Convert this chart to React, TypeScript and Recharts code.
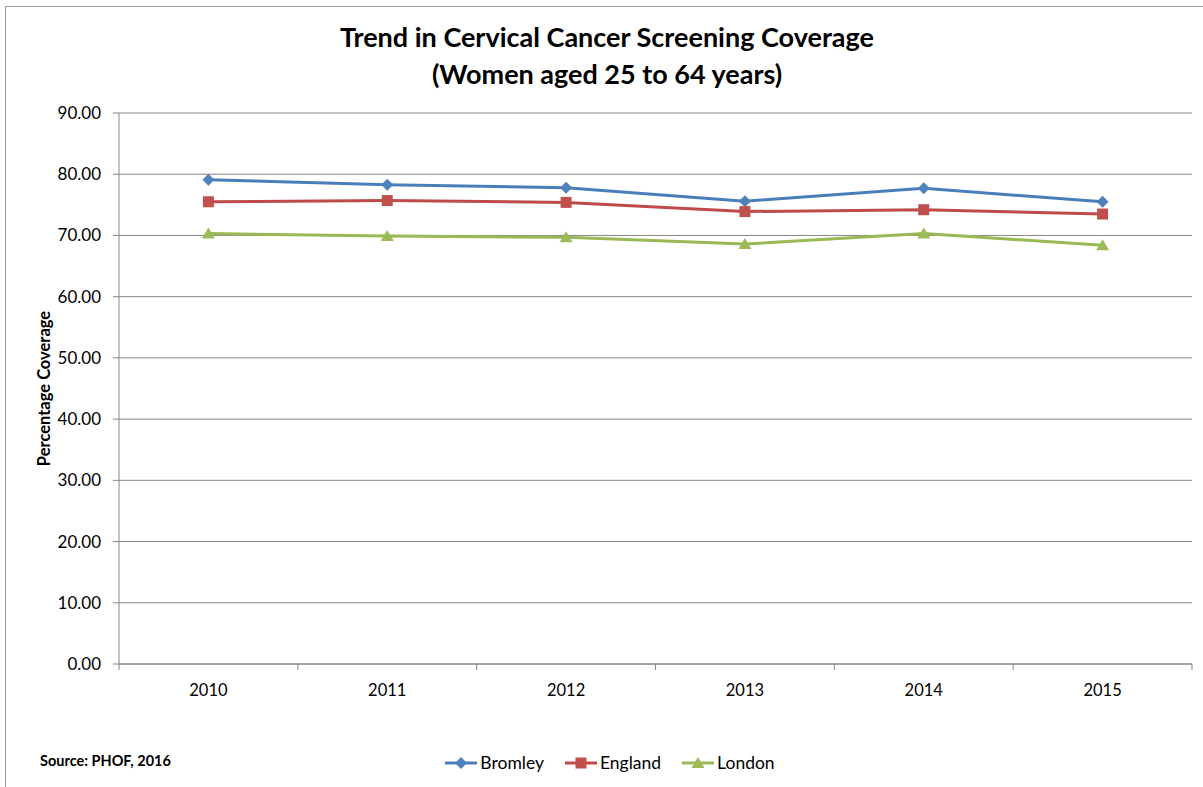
import React from 'react';
import { LineChart, Line, XAxis, YAxis, CartesianGrid, Legend } from 'recharts';

const categories = ['2010', '2011', '2012', '2013', '2014', '2015'];
const bromley = [79.1, 78.3, 77.8, 75.6, 77.7, 75.5];
const england = [75.5, 75.7, 75.4, 73.9, 74.2, 73.5];
const london = [70.3, 69.9, 69.7, 68.6, 70.3, 68.4];
const yTicks = [0, 10, 20, 30, 40, 50, 60, 70, 80, 90];
const seriesNames = ['Bromley', 'England', 'London'];
const seriesColors = ['#4A7EBB', '#BE4B48', '#98B954'];
const markerColors = ['#4F81BD', '#C0504D', '#9BBB59'];
const titleLines = ['Trend in Cervical Cancer Screening Coverage', '(Women aged 25 to 64 years)'];
const yLabel = 'Percentage Coverage';
const sourceText = 'Source: PHOF, 2016';

const data = categories.map((c, i) => ({
  year: c,
  Bromley: bromley[i],
  England: england[i],
  London: london[i],
}));

const FONT = 'Lato, "Open Sans", sans-serif';
const AXIS = '#868686';

function Marker({ kind, cx, cy, color }: { kind: number; cx: number; cy: number; color: string }) {
  if (cx == null || cy == null) return null;
  if (kind === 0) {
    const r = 6;
    return <path d={`M${cx},${cy - r}L${cx + r},${cy}L${cx},${cy + r}L${cx - r},${cy}Z`} fill={color} />;
  }
  if (kind === 1) {
    const s = 5.5;
    return <rect x={cx - s} y={cy - s} width={2 * s} height={2 * s} fill={color} />;
  }
  const h = 6;
  return <path d={`M${cx},${cy - h}L${cx + 6.5},${cy + h - 1}L${cx - 6.5},${cy + h - 1}Z`} fill={color} />;
}

function XTick(props: any) {
  const { x, y, payload, index, width } = props;
  const half = width / categories.length / 2;
  return (
    <g>
      <line x1={x - half} x2={x - half} y1={y} y2={y + 6} stroke={AXIS} />
      {index === categories.length - 1 && (
        <line x1={x + half} x2={x + half} y1={y} y2={y + 6} stroke={AXIS} />
      )}
      <text x={x} y={y + 32} textAnchor="middle" fontSize={16.5} fontFamily={FONT} fill="#000">
        {payload.value}
      </text>
    </g>
  );
}

function LegendContent() {
  return (
    <div style={{ display: 'flex', justifyContent: 'center', alignItems: 'center', fontFamily: FONT, fontSize: 17.5, color: '#000' }}>
      {seriesNames.map((n, i) => (
        <div key={n} style={{ display: 'flex', alignItems: 'center', marginRight: i < 2 ? 21 : 0 }}>
          <svg width={32} height={14} style={{ marginRight: 3 }}>
            <line x1={0} x2={32} y1={7} y2={7} stroke={seriesColors[i]} strokeWidth={3} />
            <Marker kind={i} cx={16} cy={7} color={markerColors[i]} />
          </svg>
          <span>{n}</span>
        </div>
      ))}
    </div>
  );
}

export default function App() {
  return (
    <div style={{ position: 'absolute', left: 0, top: 0, width: 1203, height: 787, overflow: 'hidden', background: '#fff' }}>
      <div style={{ position: 'absolute', left: 5, top: 6, width: 1204, height: 900, border: '1.5px solid #9a9a9a', boxSizing: 'border-box' }} />
      <div style={{ position: 'absolute', left: 5, width: 1204, top: 18, textAlign: 'center', fontFamily: FONT, fontWeight: 700, fontSize: 27, lineHeight: '37px', color: '#000' }}>
        {titleLines.map((t) => (
          <div key={t}>{t}</div>
        ))}
      </div>
      <div style={{ position: 'absolute', left: 40, top: 752, fontFamily: FONT, fontWeight: 700, fontSize: 14.5, color: '#000' }}>{sourceText}</div>
      <div style={{ position: 'absolute', left: 0, top: 0 }}>
        <LineChart width={1203} height={787} data={data} margin={{ top: 113, right: 11, bottom: 53, left: 59 }}>
          <CartesianGrid vertical={false} stroke={AXIS} strokeWidth={1} />
          <XAxis
            dataKey="year"
            scale="band"
            axisLine={{ stroke: AXIS }}
            tickLine={false}
            tickSize={0}
            tickMargin={0}
            height={40}
            tick={<XTick />}
            interval={0}
          />
          <YAxis
            domain={[0, 90]}
            ticks={yTicks}
            width={60}
            axisLine={{ stroke: AXIS }}
            tickLine={{ stroke: AXIS }}
            tickSize={6}
            tickMargin={12}
            tickFormatter={(v: number) => v.toFixed(2)}
            tick={{ fontSize: 17, fontFamily: FONT, fill: '#000' }}
            label={{ value: yLabel, angle: -90, position: 'insideLeft', dx: -20, style: { textAnchor: 'middle', fontFamily: FONT, fontWeight: 700, fontSize: 16.5, fill: '#000' } } as any}
          />
          <Legend
            verticalAlign="bottom"
            height={30}
            content={<LegendContent />}
            wrapperStyle={{ top: 752, left: 0, width: 1220, bottom: 'auto' }}
          />
          {seriesNames.map((n, i) => (
            <Line
              key={n}
              dataKey={n}
              stroke={seriesColors[i]}
              strokeWidth={3}
              isAnimationActive={false}
              dot={(p: any) => <Marker key={`${n}-${p.index}`} kind={i} cx={p.cx} cy={p.cy} color={markerColors[i]} />}
              activeDot={false}
            />
          ))}
        </LineChart>
      </div>
    </div>
  );
}
